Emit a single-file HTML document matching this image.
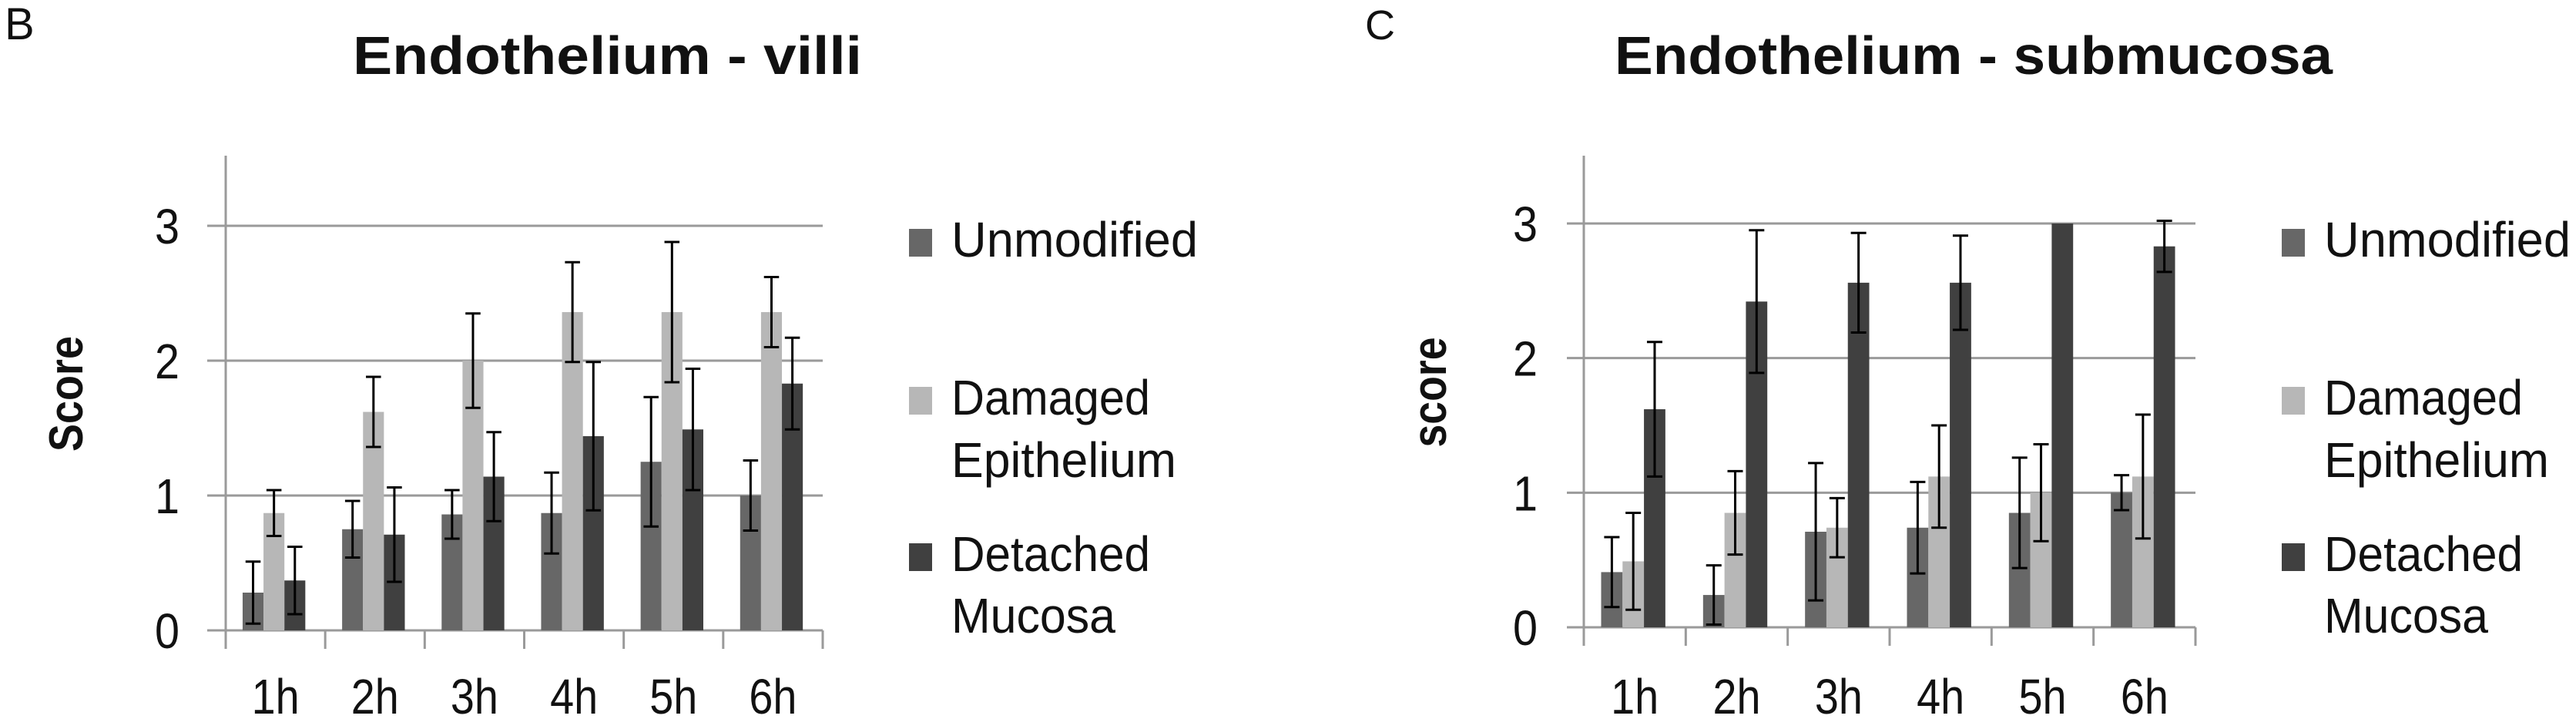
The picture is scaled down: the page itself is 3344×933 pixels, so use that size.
<!DOCTYPE html>
<html><head><meta charset="utf-8"><style>
html,body{margin:0;padding:0;background:#fff;}
svg{display:block;}
text{font-family:"Liberation Sans",sans-serif;fill:#111;}
</style></head><body>
<svg id="fig" width="3344" height="933" viewBox="0 0 3344 933" xmlns="http://www.w3.org/2000/svg">
<text x="6" y="51" font-size="58">B</text>
<text x="1772" y="51" font-size="54">C</text>
<text x="458" y="96" font-size="70" font-weight="bold" textLength="661" lengthAdjust="spacingAndGlyphs">Endothelium - villi</text>
<text x="2096" y="96" font-size="70" font-weight="bold" textLength="932" lengthAdjust="spacingAndGlyphs">Endothelium - submucosa</text>
<text transform="translate(107,511) rotate(-90)" text-anchor="middle" font-size="62" font-weight="bold" textLength="150" lengthAdjust="spacingAndGlyphs">Score</text>
<text transform="translate(1877,509) rotate(-90)" text-anchor="middle" font-size="62" font-weight="bold" textLength="143" lengthAdjust="spacingAndGlyphs">score</text>
<g id="c1"></g>
<g id="c2"></g>
</svg>
<script>
const categories = ["1h","2h","3h","4h","5h","6h"];
const yTicks = [0,1,2,3];
const seriesNames = ["Unmodified","Damaged Epithelium","Detached Mucosa"];
// Chart B: Endothelium - villi
const villiUnmodified = [0.28,0.75,0.86,0.87,1.25,1.0];
const villiUnmodifiedErr = [0.23,0.21,0.18,0.30,0.48,0.26];
const villiDamaged = [0.87,1.62,2.0,2.36,2.36,2.36];
const villiDamagedErr = [0.17,0.26,0.35,0.37,0.52,0.26];
const villiDetached = [0.37,0.71,1.14,1.44,1.49,1.83];
const villiDetachedErr = [0.25,0.35,0.33,0.55,0.45,0.34];
// Chart C: Endothelium - submucosa
const subUnmodified = [0.41,0.24,0.71,0.74,0.85,1.0];
const subUnmodifiedErr = [0.26,0.22,0.51,0.34,0.41,0.13];
const subDamaged = [0.49,0.85,0.74,1.12,1.0,1.12];
const subDamagedErr = [0.36,0.31,0.22,0.38,0.36,0.46];
const subDetached = [1.62,2.42,2.56,2.56,3.0,2.83];
const subDetachedErr = [0.50,0.53,0.37,0.35,0.0,0.19];

const NS = "http://www.w3.org/2000/svg";
const colors = ["#676767","#b7b7b7","#404040"];
function mk(tag, attrs, parent){
  const e = document.createElementNS(NS, tag);
  for (const k in attrs) e.setAttribute(k, attrs[k]);
  parent.appendChild(e);
  return e;
}
function draw(g, cfg, vals, errs, key){
  const cat = (cfg.x1 - cfg.x0) / categories.length;
  const yS = v => cfg.y0 - v * (cfg.y0 - cfg.y3) / 3;
  const xS = i => cfg.x0 + i * cat;
  yTicks.forEach(t => {
    const l = mk("line", {x1: cfg.stub, x2: cfg.x1, y1: yS(t), y2: yS(t), stroke: "#9a9a9a", "stroke-width": 3}, g);
    
    
    const tx = mk("text", {x: cfg.x0 - 60, y: yS(t) + 23, "font-size": 64, "text-anchor": "end", fill: "#222", textLength: 32, lengthAdjust: "spacingAndGlyphs"}, g);
    tx.textContent = t;
    
    
  });
  const ax = mk("line", {x1: cfg.x0, x2: cfg.x0, y1: 202, y2: yS(0) + 24, stroke: "#9a9a9a", "stroke-width": 3}, g);
  
  
  for (let i = 1; i <= categories.length; i++) {
    const tk = mk("line", {x1: xS(i), x2: xS(i), y1: yS(0), y2: yS(0) + 24, stroke: "#9a9a9a", "stroke-width": 3}, g);
    
    
  }
  categories.forEach((c, i) => {
    const tx = mk("text", {x: xS(i) + cat / 2, y: 926, "font-size": 64, "text-anchor": "middle", fill: "#222", textLength: 62, lengthAdjust: "spacingAndGlyphs"}, g);
    tx.textContent = c;
    
    
  });
  const bw = cat * 0.21, off = cat * 0.17;
  vals.forEach((arr, s) => {
    arr.forEach((v, i) => {
      const x = xS(i) + off + s * bw;
      const r = mk("rect", {x: x, y: yS(v), width: bw, height: yS(0) - yS(v), fill: colors[s]}, g);
      
      
      const e = errs[s][i];
      if (e > 0) {
        const cx = x + bw / 2, hw = bw * 0.36;
        const eb = mk("path", {d: `M${cx},${yS(v + e)}V${yS(v - e)}M${cx - hw},${yS(v + e)}H${cx + hw}M${cx - hw},${yS(v - e)}H${cx + hw}`, stroke: "#000", "stroke-width": 3, fill: "none"}, g);
        
        
      }
    });
  });
  const lx = cfg.legend;
  const entries = [[[ "Unmodified", 333 ]], [[ "Damaged", 538 ], [ "Epithelium", 619 ]], [[ "Detached", 741 ], [ "Mucosa", 821 ]]];
  const widths = {Unmodified: 320, Damaged: 258, Epithelium: 292, Detached: 258, Mucosa: 213};
  entries.forEach((lines, s) => {
    const sq = mk("rect", {x: lx, y: lines[0][1] - 36, width: 30, height: 36, fill: colors[s]}, g);
    
    
    lines.forEach(([t, y]) => {
      const tx = mk("text", {x: lx + 55, y: y, "font-size": 64, fill: "#222", textLength: widths[t], lengthAdjust: "spacingAndGlyphs"}, g);
      tx.textContent = t;
      
      
    });
  });
}
draw(document.getElementById("c1"), {x0: 293, x1: 1068, stub: 269, y0: 818, y3: 293, legend: 1180},
  [villiUnmodified, villiDamaged, villiDetached], [villiUnmodifiedErr, villiDamagedErr, villiDetachedErr], "villi");
draw(document.getElementById("c2"), {x0: 2056, x1: 2850, stub: 2034, y0: 814, y3: 290, legend: 2962},
  [subUnmodified, subDamaged, subDetached], [subUnmodifiedErr, subDamagedErr, subDetachedErr], "sub");
</script>
</body></html>
